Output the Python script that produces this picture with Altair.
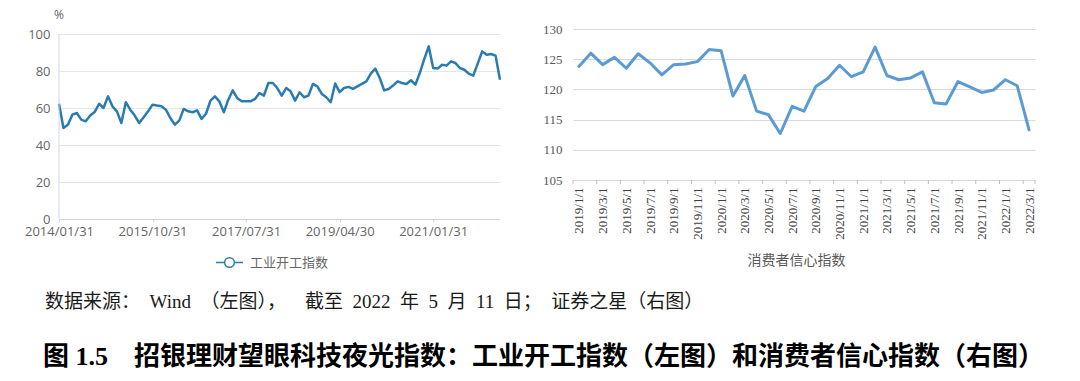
import altair as alt
import pandas as pd

# ---------------- data ----------------
ind_values = [
    62.3, 49.2, 51.0, 56.4, 57.3, 53.7, 52.8, 55.9, 57.8, 62.3,
    60.0, 66.3, 60.9, 58.2, 51.9, 63.1, 59.1, 55.9, 51.9, 55.0,
    58.2, 61.8, 61.3, 60.9, 59.1, 54.6, 51.0, 53.2, 59.5, 58.2,
    57.7, 58.7, 54.1, 56.9, 64.0, 66.3, 63.6, 57.7, 64.5, 69.5,
    65.4, 63.6, 63.6, 63.6, 64.9, 68.1, 66.7, 73.5, 73.5, 70.8,
    66.7, 70.8, 69.0, 64.0, 68.5, 65.8, 66.7, 73.0, 71.7, 67.6,
    65.8, 63.1, 73.2, 68.6, 70.8, 71.4, 70.3, 71.7, 73.0, 74.4,
    78.6, 81.3, 76.2, 69.5, 70.3, 72.1, 74.4, 73.5, 73.0, 75.0,
    72.6, 78.9, 86.5, 93.3, 81.6, 81.3, 83.4, 82.9, 85.2, 84.3,
    81.6, 80.7, 78.6, 77.5, 84.0, 90.6, 88.8, 89.2, 88.3, 75.3,
]
ind_dates = [
    d.strftime("%Y/%m/%d")
    for d in (pd.date_range("2014-01-01", periods=len(ind_values), freq="MS") + pd.offsets.MonthEnd(0))
]
ind_ticks = ["2014/01/31", "2015/10/31", "2017/07/31", "2019/04/30", "2021/01/31"]
ind_yticks = [0, 20, 40, 60, 80, 100]
ind_series = "工业开工指数"

conf_values = [
    123.8, 126.0, 124.1, 125.3, 123.5, 125.9, 124.4, 122.4, 124.1, 124.2,
    124.6, 126.6, 126.4, 118.9, 122.3, 116.4, 115.8, 112.7, 117.2, 116.4,
    120.5, 121.8, 124.0, 122.1, 122.9, 127.0, 122.3, 121.6, 121.9, 122.9,
    117.8, 117.6, 121.3, 120.4, 119.5, 119.9, 121.6, 120.6, 113.3,
]
conf_months = [f"{2019 + i // 12}/{i % 12 + 1}/1" for i in range(len(conf_values))]
conf_label_months = conf_months[::2]
conf_yticks = [105, 110, 115, 120, 125, 130]
conf_title = "消费者信心指数"

footer_text = ("数据来源：\u2002Wind\u2002（左图），\u2003截至\u20022022\u2002年\u20025\u2002月"
               "\u200211\u2002日；\u2002证券之星（右图）")
title_text = "图 1.5\u2003招银理财望眼科技夜光指数：工业开工指数（左图）和消费者信心指数（右图）"

# ---------------- layout constants ----------------
LW, LH = 441, 190
RW, RH = 462, 151
STEP_R = RW / len(conf_months)
SANS = "Open Sans"
CJK = "Noto Sans CJK SC"
SERIF_MIX = "Liberation Serif, Noto Sans CJK SC"

# ---------------- left chart ----------------
left_df = pd.DataFrame({"date": ind_dates, "value": ind_values, "series": ind_series})
one = pd.DataFrame({"k": [0]})
axis_span = pd.DataFrame({"lo": [ind_yticks[0]], "hi": [ind_yticks[-1]]})

x_left = alt.X(
    "date:O", sort=None, title=None,
    scale=alt.Scale(type="point", padding=0, domain=ind_dates),
    axis=alt.Axis(values=ind_ticks, labelAngle=0, labelFont=SANS, labelFontSize=13,
                  labelColor="#666666", tickColor="#ccd6eb", tickSize=3, labelPadding=3,
                  domainColor="#ccd6eb", grid=False, labelOverlap=False, labelFlush=False),
)
y_scale_left = alt.Scale(domain=[0, 100 * LH / 185], nice=False, zero=True)
y_axis_left = alt.Axis(values=ind_yticks, labelFont=SANS, labelFontSize=13, labelColor="#666666",
                       ticks=False, domain=False, gridColor="#e6e6e6", labelPadding=9,
                       labelOverlap=False, labelFlush=False, tickCount=6)

sym = "M-1,0L-0.36,0M0.36,0L1,0M0.36,0A0.36,0.36,0,1,1,-0.36,0A0.36,0.36,0,1,1,0.36,0Z"
line_left = alt.Chart(left_df).mark_line(strokeWidth=2.5, strokeJoin="round").encode(
    x=x_left,
    y=alt.Y("value:Q", title=None, scale=y_scale_left, axis=y_axis_left),
    color=alt.Color("series:N", scale=alt.Scale(range=["#2a7cb0"]),
                    legend=alt.Legend(orient="none", legendX=156, legendY=219, title=None,
                                      symbolType=sym, symbolSize=729, symbolStrokeWidth=1.5,
                                      symbolFillColor="white", symbolStrokeColor="#5aa2d4",
                                      labelFont=CJK, labelFontSize=13, labelColor="#666666",
                                      labelOffset=6, padding=0)),
)
y_rule = alt.Chart(axis_span).mark_rule(color="#ccd6eb", strokeWidth=1).encode(
    x=alt.value(0),
    y=alt.Y("lo:Q", title=None, scale=y_scale_left, axis=y_axis_left),
    y2="hi:Q",
)
pct = alt.Chart(pd.DataFrame({"t": ["%"]})).mark_text(
    align="center", baseline="middle", font=SANS, fontSize=12, color="#666666"
).encode(x=alt.value(0), y=alt.value(-14), text="t:N")
footer = alt.Chart(pd.DataFrame({"t": [footer_text]})).mark_text(
    align="left", baseline="middle", font=SERIF_MIX, fontSize=19, color="#1a1a1a"
).encode(x=alt.value(-14), y=alt.value(273), text="t:N")
title = alt.Chart(pd.DataFrame({"t": [title_text]})).mark_text(
    align="left", baseline="middle", font=SERIF_MIX, fontSize=26, fontWeight="bold", color="#000000"
).encode(x=alt.value(-16), y=alt.value(328), text="t:N")
anchor = alt.Chart(one).mark_rect(opacity=0).encode(
    x=alt.value(-51), x2=alt.value(-50), y=alt.value(-21), y2=alt.value(-20)
)

left = alt.layer(line_left, y_rule, pct, footer, title, anchor).properties(width=LW, height=LH)

# ---------------- right chart ----------------
right_df = pd.DataFrame({"month": conf_months, "value": conf_values})
tick_df = pd.DataFrame({"month": conf_months[::2]})
end_df = pd.DataFrame({"month": conf_months[-1:]})

x_right = alt.X(
    "month:O", sort=None,
    scale=alt.Scale(type="point", padding=0.5, domain=conf_months),
    axis=alt.Axis(values=conf_label_months, labelAngle=270, labelFont="Liberation Serif",
                  labelFontSize=13, labelColor="#404040", ticks=False, labelPadding=7,
                  domainColor="#d9d9d9", grid=False, labelOverlap=False,
                  title=conf_title, titleFont=CJK, titleFontSize=14, titleFontWeight="normal",
                  titleColor="#595959", titleX=223, titleY=80, titleAlign="center",
                  titleBaseline="middle"),
)
y_right = alt.Y(
    "value:Q", title=None,
    scale=alt.Scale(domain=[105, 130], nice=False, zero=False),
    axis=alt.Axis(values=conf_yticks, labelFont="Liberation Serif", labelFontSize=13,
                  labelColor="#595959", ticks=False, domain=False, gridColor="#d9d9d9",
                  labelPadding=11, labelOverlap=False, labelFlush=False),
)
line_right = alt.Chart(right_df).mark_line(
    strokeWidth=3, color="#5b9bd5", strokeJoin="round", strokeCap="round"
).encode(x=x_right, y=y_right)
ticks_r = alt.Chart(tick_df).mark_rule(color="#bfbfbf", xOffset=-STEP_R / 2).encode(
    x=x_right, y=alt.value(RH), y2=alt.value(RH + 4)
)
end_tick = alt.Chart(end_df).mark_rule(color="#bfbfbf", xOffset=STEP_R / 2).encode(
    x=x_right, y=alt.value(RH), y2=alt.value(RH + 4)
)
right = alt.layer(line_right, ticks_r, end_tick).properties(width=RW, height=RH)

chart = (
    alt.hconcat(left, right, spacing=73, bounds="flush")
    .properties(padding=0)
    .configure_view(stroke=None)
)
chart.save("out.html", embed_options={"renderer": "svg", "actions": False})
